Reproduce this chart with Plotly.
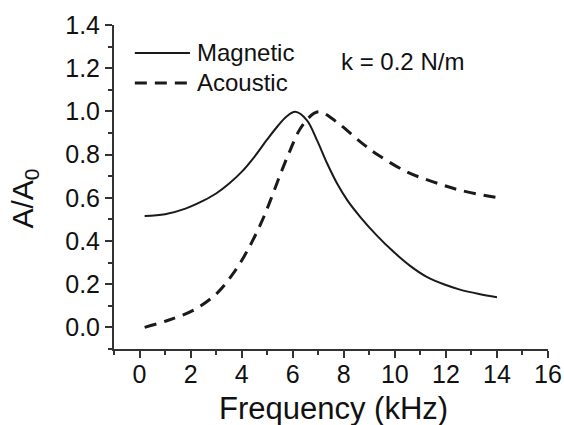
import plotly.graph_objects as go

# Data
mag_freq = [0.2, 1.0, 1.8, 2.5, 3.0, 3.5, 4.0, 4.5, 5.0, 5.4, 5.75, 6.1, 6.55, 6.95,
            7.35, 7.75, 8.15, 8.65, 9.3, 9.95, 10.6, 11.25, 12.0, 12.55, 13.3, 14.0]
mag_amp = [0.516, 0.524, 0.55, 0.587, 0.62, 0.665, 0.72, 0.79, 0.87, 0.93, 0.975,
           0.998, 0.96, 0.867, 0.759, 0.664, 0.587, 0.511, 0.425, 0.35, 0.285,
           0.234, 0.196, 0.175, 0.155, 0.14]

ac_freq = [0.2, 1.1, 2.15, 3.05, 3.7, 4.2, 4.75, 5.15, 5.52, 5.9, 6.3, 6.82,
           7.08, 7.8, 8.65, 9.36, 10.47, 11.5, 12.56, 14.0]
ac_amp = [0.0, 0.032, 0.082, 0.16, 0.255, 0.35, 0.48, 0.595, 0.71, 0.82,
          0.921, 0.99, 0.998, 0.944, 0.859, 0.797, 0.72, 0.674, 0.635, 0.601]

legend_labels = ["Magnetic", "Acoustic"]
x_title = "Frequency (kHz)"
y_title = "A/A<sub>0</sub>"
note = "k = 0.2 N/m"
x_range = [-1, 16]
y_range = [-0.1, 1.4]

FONT = "Liberation Sans, Arial, sans-serif"
INK = "#1a1a1a"
TXT = "#111111"
AX = "#333333"
DASH = "12px,8px"

fig = go.Figure()
fig.add_trace(go.Scatter(x=mag_freq, y=mag_amp, mode="lines", name=legend_labels[0],
                         line=dict(color=INK, width=2, shape="spline")))
fig.add_trace(go.Scatter(x=ac_freq, y=ac_amp, mode="lines", name=legend_labels[1],
                         line=dict(color=INK, width=3, dash=DASH, shape="spline")))

fig.update_layout(
    width=564, height=425,
    margin=dict(l=114, r=16, t=25, b=76, autoexpand=False),
    paper_bgcolor="white", plot_bgcolor="white",
    font=dict(family=FONT, color=TXT),
    showlegend=False,
    xaxis=dict(range=x_range, tick0=0, dtick=2, ticks="outside", ticklen=7,
               tickwidth=1.5, tickcolor=AX, showline=True, linewidth=2,
               linecolor=AX, showgrid=False, zeroline=False, automargin=False,
               tickfont=dict(size=25, family=FONT), ticklabelstandoff=-5,
               minor=dict(dtick=1, ticks="outside", ticklen=4, tickcolor=AX, tickwidth=1.5)),
    yaxis=dict(range=y_range, tick0=0, dtick=0.2, tickformat=".1f", ticks="outside",
               ticklen=7, tickwidth=1.5, tickcolor=AX, showline=True, linewidth=2,
               linecolor=AX, showgrid=False, zeroline=False, automargin=False,
               tickfont=dict(size=25, family=FONT),
               minor=dict(dtick=0.1, ticks="outside", ticklen=4, tickcolor=AX, tickwidth=1.5)),
    xaxis2=dict(range=x_range, overlaying="x", anchor="y", side="top", tick0=0, dtick=1,
                ticks="inside", ticklen=5, tickwidth=1.5, tickcolor=AX,
                showticklabels=False, showline=True, linewidth=2, linecolor=AX,
                showgrid=False, zeroline=False, automargin=False),
    yaxis2=dict(range=y_range, overlaying="y", anchor="x", side="right", tick0=0, dtick=0.1,
                ticks="inside", ticklen=5, tickwidth=1.5, tickcolor=AX,
                showticklabels=False, showline=True, linewidth=2, linecolor=AX,
                showgrid=False, zeroline=False, automargin=False),
)

# Axis titles as annotations for precise placement
fig.add_annotation(text=x_title, xref="paper", yref="paper", x=0.506, y=-0.185,
                   xanchor="center", yanchor="middle", showarrow=False,
                   font=dict(size=31, family=FONT, color=TXT))
fig.add_annotation(text=y_title, xref="paper", yref="paper", x=-0.206, y=0.463,
                   xanchor="center", yanchor="middle", showarrow=False, textangle=-90,
                   font=dict(size=30, family=FONT, color=TXT))

# Hand-drawn legend (line samples + labels), placed in paper coordinates
legend_rows = [(0.9136, None, 2), (0.821, DASH, 3)]
for label, (yy, dash, w) in zip(legend_labels, legend_rows):
    fig.add_shape(type="line", xref="paper", yref="paper", x0=0.048, x1=0.175,
                  y0=yy, y1=yy, line=dict(color=INK, width=w, dash=dash))
    fig.add_annotation(text=label, xref="paper", yref="paper", x=0.187, y=yy,
                       xanchor="left", yanchor="middle", showarrow=False,
                       font=dict(size=24, family=FONT, color=TXT))

fig.add_annotation(text=note, xref="paper", yref="paper", x=0.518, y=0.887,
                   xanchor="left", yanchor="middle", showarrow=False,
                   font=dict(size=24, family=FONT, color=TXT))

fig.write_html("out.html", config={"displayModeBar": False},
               post_script="document.body.style.margin='0';document.body.style.padding='0';")
